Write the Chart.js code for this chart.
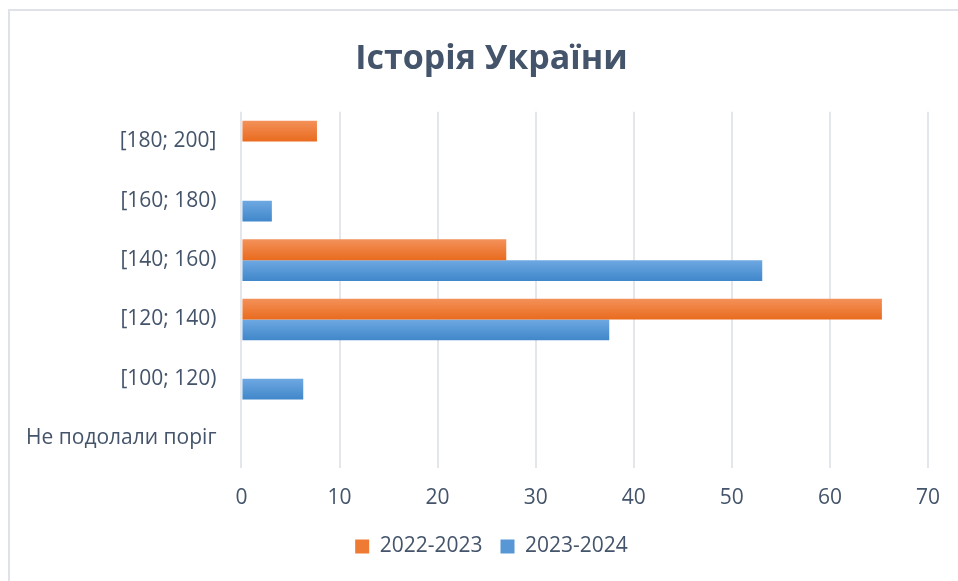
<!DOCTYPE html>
<html>
<head>
<meta charset="utf-8">
<script src="https://cdn.jsdelivr.net/npm/chart.js@4"></script>
<style>
  html, body { margin: 0; padding: 0; background: #fff; overflow: hidden; }
  #frame { position: absolute; left: 8px; top: 9px; width: 1200px; height: 1200px; border: 2px solid #dfe3e9; }
  #wrap { position: absolute; left: 0; top: 0; width: 958px; height: 581px; }
</style>
</head>
<body>
<div id="frame"></div>
<div id="wrap"><canvas id="chart"></canvas></div>
<script>
// Історія України — розподіл балів НМТ за два роки
const categories = ["[180; 200]", "[160; 180)", "[140; 160)", "[120; 140)", "[100; 120)", "Не подолали поріг"];
const series2022 = [7.7, 0, 27.0, 65.3, 0, 0];
const series2023 = [0, 3.1, 53.1, 37.5, 6.3, 0];
const xTicks = [0, 10, 20, 30, 40, 50, 60, 70];

const TEXT = "#44546a";
const CAT_PCT = 0.7;

// vertical gradient per bar, taken from the scale position of the category
function barGradient(top, bottom, dsIndex) {
  return (ctx) => {
    const chart = ctx.chart;
    const y = chart.scales.y;
    if (!y || ctx.type !== "data") return bottom;
    const center = y.getPixelForValue(ctx.dataIndex);
    const band = Math.abs(y.getPixelForValue(1) - y.getPixelForValue(0));
    const thick = (band * CAT_PCT) / 2;
    const y0 = dsIndex === 0 ? center - thick : center;
    const g = chart.ctx.createLinearGradient(0, y0, 0, y0 + thick);
    g.addColorStop(0, top);
    g.addColorStop(1, bottom);
    return g;
  };
}

new Chart(document.getElementById("chart"), {
  type: "bar",
  data: {
    labels: categories,
    datasets: [
      {
        label: "2022-2023",
        data: series2022,
        backgroundColor: barGradient("#f3915a", "#e96b1e", 0),
        categoryPercentage: CAT_PCT,
        barPercentage: 1,
      },
      {
        label: "2023-2024",
        data: series2023,
        backgroundColor: barGradient("#6ea8e2", "#4087ca", 1),
        categoryPercentage: CAT_PCT,
        barPercentage: 1,
      },
    ],
  },
  options: {
    indexAxis: "y",
    responsive: true,
    maintainAspectRatio: false,
    animation: false,
    layout: { padding: { left: 51, right: 26, top: 20, bottom: 14 } },
    scales: {
      x: {
        min: 0,
        max: 70,
        afterBuildTicks: (axis) => { axis.ticks = xTicks.map((v) => ({ value: v })); },
        afterFit: (axis) => { axis.height -= 11; },
        grid: { color: "#e3e6eb", lineWidth: 2, drawTicks: false },
        border: { display: false },
        ticks: { color: TEXT, padding: 18, font: { family: "Open Sans", size: 21 } },
      },
      y: {
        afterFit: (axis) => { axis.width -= 42; },
        // labels reach left of the narrowed axis box, so don't clip them to it
        afterUpdate: (axis) => { axis._computeLabelArea = () => undefined; },
        grid: { display: false },
        border: { display: false },
        ticks: { color: TEXT, padding: 17, font: { family: "Open Sans", size: 21 } },
      },
    },
    plugins: {
      title: {
        display: true,
        text: "Історія України",
        color: TEXT,
        font: { family: "Open Sans", size: 34, weight: "bold" },
        padding: { top: 19, bottom: 32 },
      },
      legend: {
        position: "bottom",
        labels: {
          color: TEXT,
          boxWidth: 14,
          boxHeight: 14,
          padding: 18,
          font: { family: "Open Sans", size: 21 },
          generateLabels: (chart) =>
            chart.data.datasets.map((ds, i) => ({
              text: ds.label,
              fillStyle: i === 0 ? "#ee7a33" : "#5797d6",
              strokeStyle: "transparent",
              lineWidth: 0,
              fontColor: TEXT,
              datasetIndex: i,
            })),
        },
      },
      tooltip: { enabled: false },
    },
  },
});
</script>
</body>
</html>
